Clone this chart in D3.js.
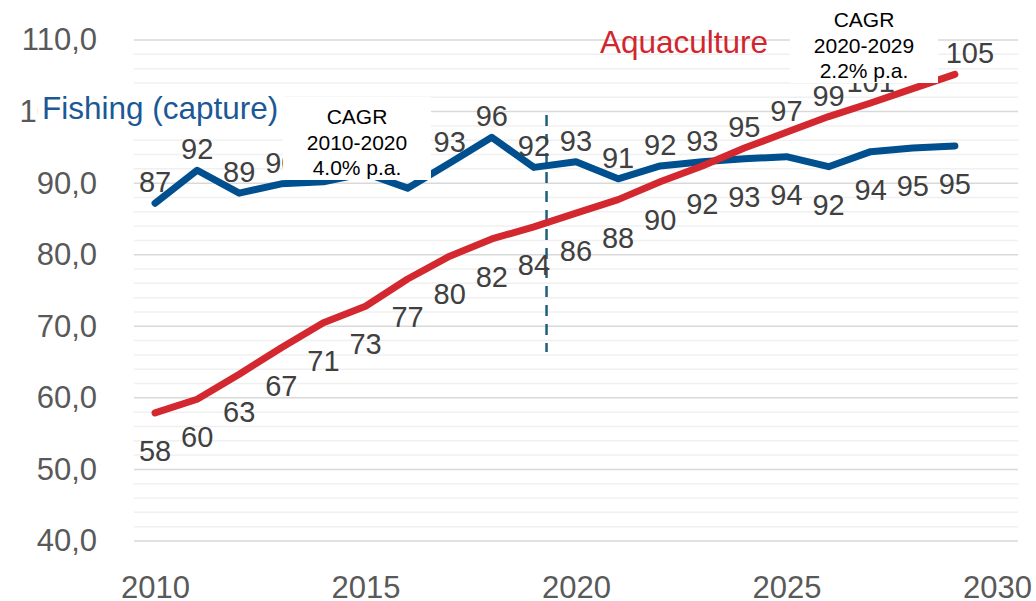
<!DOCTYPE html>
<meta charset="utf-8">
<style>
body { margin: 0; background: #fff; }
svg { font-family: "Liberation Sans", Arial, sans-serif; }
.grid line { stroke-width: 1.5px; }
.axis text { fill: #595959; font-size: 31px; }
.labels text { fill: #404040; font-size: 29px; text-anchor: middle; }
.callout text { fill: #000; font-size: 21px; text-anchor: middle; }
</style>
<svg width="1036" height="601"></svg>
<script src="https://d3js.org/d3.v7.min.js"></script>
<script>

// values (million tonnes)
var years = [2010, 2011, 2012, 2013, 2014, 2015, 2016, 2017, 2018, 2019,
             2020, 2021, 2022, 2023, 2024, 2025, 2026, 2027, 2028, 2029];
var fishing = [87.2, 91.8, 88.6, 89.9, 90.2, 91.4, 89.3, 92.8, 96.4, 92.2,
               93.0, 90.6, 92.4, 93.0, 93.4, 93.7, 92.3, 94.4, 94.9, 95.2];
var aquaculture = [57.9, 59.8, 63.3, 67.0, 70.5, 72.8, 76.6, 79.8, 82.2, 83.9,
                   85.8, 87.7, 90.2, 92.4, 94.9, 97.1, 99.3, 101.2, 103.2, 105.2];
var yTicks = [40, 50, 60, 70, 80, 90, 100, 110];
var xTicks = [2010, 2015, 2020, 2025, 2030];
var cagr1 = ["CAGR", "2010-2020", "4.0% p.a."];
var cagr2 = ["CAGR", "2020-2029", "2.2% p.a."];
var dividerYear = 2019.3;
var labelSwapYear = 2024;

var blue = "#00508f", red = "#d3282f";

var svg = d3.select("svg");

var x = d3.scaleLinear().domain([2009.5, 2030.5]).range([134, 1018]);
var y = d3.scaleLinear().domain([40, 110]).range([541, 40]);

var comma = d3.formatLocale({decimal: ",", thousands: ".", grouping: [3], currency: ["", ""]}).format(".1f");

// gridlines: light every 2, darker every 10
var grid = svg.append("g").attr("class", "grid");
grid.selectAll("line")
    .data(d3.range(40, 111, 2))
  .enter().append("line")
    .attr("x1", x.range()[0]).attr("x2", x.range()[1])
    .attr("y1", function(d) { return y(d); })
    .attr("y2", function(d) { return y(d); })
    .attr("stroke", function(d) { return d % 10 == 0 ? "#d9d9d9" : "#f0f0f0"; });

// axes
var yAxis = svg.append("g").attr("class", "axis")
    .attr("transform", "translate(100,0)")
    .call(d3.axisLeft(y).tickValues(yTicks).tickFormat(comma).tickSize(0).tickPadding(3));
yAxis.select(".domain").remove();
yAxis.selectAll("text").attr("font-family", null).attr("font-size", null);

var xAxis = svg.append("g").attr("class", "axis")
    .attr("transform", "translate(0,598)")
    .call(d3.axisBottom(x).tickValues(xTicks).tickFormat(d3.format("d")).tickSize(0));
xAxis.select(".domain").remove();
xAxis.selectAll("text").attr("y", 0).attr("dy", 0).attr("font-family", null).attr("font-size", null);

// divider between history and projection
svg.append("line")
    .attr("x1", x(dividerYear)).attr("x2", x(dividerYear))
    .attr("y1", 115).attr("y2", 352)
    .attr("stroke", "#1f5f7e")
    .attr("stroke-width", 2.5)
    .attr("stroke-dasharray", "11,8");

var line = d3.line()
    .x(function(d, i) { return x(years[i]); })
    .y(function(d) { return y(d); });

svg.append("path").datum(fishing)
    .attr("fill", "none").attr("stroke", blue)
    .attr("stroke-width", 7).attr("stroke-linejoin", "round").attr("stroke-linecap", "round")
    .attr("d", line);

svg.append("path").datum(aquaculture)
    .attr("fill", "none").attr("stroke", red)
    .attr("stroke-width", 7).attr("stroke-linejoin", "round").attr("stroke-linecap", "round")
    .attr("d", line);

// data labels
function addLabels(values, aboveBeforeSwap, lastShift) {
  var n = values.length;
  svg.append("g").attr("class", "labels")
    .selectAll("text")
    .data(values)
    .enter().append("text")
      .attr("x", function(d, i) { return x(years[i]) + (i == n - 1 ? lastShift : 0); })
      .attr("y", function(d, i) {
        var above = (years[i] < labelSwapYear) == aboveBeforeSwap;
        return y(d) + (above ? -11 : 48);
      })
      .text(function(d) { return Math.round(d); });
}
addLabels(fishing, true, 0);
addLabels(aquaculture, false, 15);

// series names
svg.append("rect").attr("x", 38).attr("y", 85).attr("width", 245).attr("height", 44).attr("fill", "#fff");
svg.append("text").attr("x", 42).attr("y", 119)
    .attr("fill", "#1b5896").style("font-size", "31.5px")
    .text("Fishing (capture)");

svg.append("text").attr("x", 600).attr("y", 53)
    .attr("fill", "#d2262e").style("font-size", "31.5px")
    .text("Aquaculture");

// CAGR callouts
function callout(lines, bx, by, bw, bh, firstBase) {
  var g = svg.append("g").attr("class", "callout");
  g.append("rect").attr("x", bx).attr("y", by).attr("width", bw).attr("height", bh).attr("fill", "#fff");
  g.selectAll("text").data(lines).enter().append("text")
      .attr("x", bx + bw / 2)
      .attr("y", function(d, i) { return firstBase + i * 25.5; })
      .text(function(d) { return d; });
}
callout(cagr1, 283, 97, 148, 83, 124);
callout(cagr2, 790, 0, 148, 83, 27);

</script>
